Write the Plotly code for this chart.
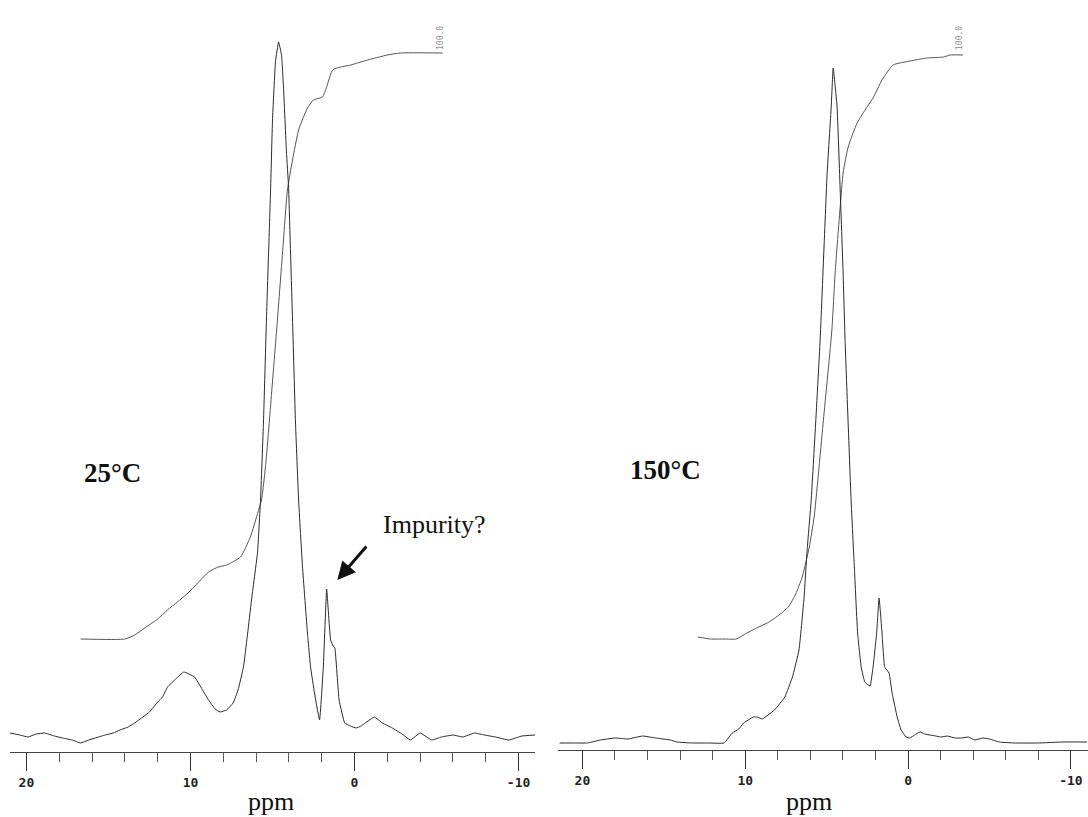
import plotly.graph_objects as go

# ---------------- data (ppm, intensity in arbitrary units) ----------------
# 25 °C spectrum
left_ppm = [21.0, 20.4, 19.9, 19.4, 18.9, 18.3, 17.8, 17.2, 16.7, 16.2, 15.8, 15.2, 14.7, 14.3, 13.8,
            13.4, 12.9, 12.5, 12.0, 11.7, 11.4, 10.9, 10.4, 9.75, 9.3, 8.9, 8.5, 8.2, 7.8, 7.4, 7.1,
            6.77, 6.52, 6.28, 5.91, 5.73, 5.55, 5.37, 5.24, 5.12, 5.0, 4.82, 4.63, 4.45, 4.33,
            4.15, 4.02, 3.9, 3.78, 3.6, 3.41, 3.17, 2.87, 2.68, 2.44, 2.26, 2.13, 1.9, 1.7, 1.55,
            1.46, 1.3, 1.2, 0.94, 0.6, 0.25, -0.1, -0.4, -0.65, -1.0, -1.2, -1.7, -2.3, -2.9, -3.4,
            -4.0, -4.7, -5.3, -6.0, -6.6, -7.3, -7.9, -8.6, -9.4, -10.2, -11.0]
left_spec = [19, 17, 15, 18, 19, 16, 14, 12, 9, 12, 14, 17, 19, 22, 25,
             29, 35, 40, 50, 55, 65, 73, 80, 75, 63, 52, 43, 40, 42, 49, 62,
             85, 118, 152, 200, 252, 330, 432, 499, 560, 632, 690, 710, 697, 665,
             600, 565, 499, 432, 330, 252, 185, 119, 85, 59, 42, 32, 85, 163, 130,
             112, 106, 104, 52, 29, 26, 24, 26, 29, 33, 35, 29, 24, 18, 12,
             19, 12, 15, 17, 15, 19, 17, 15, 12, 16, 17]
left_int_ppm = [16.7, 14.0, 13.4, 12.7, 12.0, 11.4, 10.8, 10.15, 9.5, 8.9, 8.3, 7.8, 6.95, 6.35, 5.9,
                5.67, 5.4, 5.1, 4.7, 4.39, 4.09, 3.78, 3.41, 2.87, 2.5, 1.95, 1.7, 1.34, 0.85, 0.24,
                -0.8, -2.0, -2.8, -5.37]
left_int = [113, 113, 117, 125, 133, 142, 150, 159, 170, 180, 185, 187, 195, 215, 239,
            252, 290, 350, 432, 499, 562, 592, 622, 644, 652, 655, 665, 682, 685, 687,
            692, 697, 699, 699]

# 150 °C spectrum
right_ppm = [21.4, 20.5, 19.7, 18.9, 18.0, 17.2, 16.3, 15.5, 14.6, 14.2, 13.3, 12.3, 11.3, 10.8, 10.4,
             10.1, 9.5, 9.26, 8.96, 8.6, 8.2, 7.57, 7.1, 6.7, 6.4, 6.2, 5.95, 5.7, 5.4, 4.97, 4.72,
             4.6, 4.36, 4.17, 3.99, 3.87, 3.5, 3.3, 3.1, 2.88, 2.66, 2.45, 2.33, 2.15, 1.93, 1.78,
             1.6, 1.44, 1.17, 0.98, 0.67, 0.43, 0.12, -0.1, -0.4, -0.74, -1.0, -1.35, -1.7, -2.0,
             -2.4, -2.9, -3.3, -3.7, -4.1, -4.6, -5.0, -5.6, -6.5, -8.0, -9.5, -11.0]
right_spec = [7, 7, 7, 10, 12, 11, 14, 12, 10, 8, 7, 7, 7, 17, 21,
              27, 33, 33, 31, 35, 40, 53, 73, 100, 150, 200, 250, 320, 410, 577, 643,
              682, 643, 560, 477, 410, 250, 183, 117, 83, 68, 65, 64, 83, 117, 152,
              117, 83, 77, 57, 33, 20, 13, 12, 15, 18, 16, 15, 14, 13,
              14, 12, 12, 13, 10, 12, 11, 8, 7, 7, 8, 8]
right_int_ppm = [12.9, 12.15, 11.3, 10.55, 9.9, 9.3, 8.65, 8.0, 7.36, 6.9, 6.5, 6.07, 5.77, 5.2,
                 4.68, 4.48, 4.17, 3.99, 3.68, 3.13, 2.52, 2.15, 1.6, 0.92, -0.12, -1.17, -2.2, -2.58,
                 -3.37]
right_int = [113, 111, 111, 111, 117, 122, 127, 134, 143, 156, 173, 203, 233, 330,
             420, 477, 543, 577, 603, 627, 643, 652, 670, 685, 689, 692, 693, 695,
             695]

major_ticks = [20, 10, 0, -10]
major_labels = ["20", "10", "0", "-10"]

W, H = 1088, 817
LINE = "#2a2a2a"

fig = go.Figure()
fig.add_trace(go.Scatter(x=left_int_ppm, y=left_int, xaxis="x", yaxis="y", mode="lines",
                         line=dict(color="#555555", width=1, shape="spline", smoothing=0.5)))
fig.add_trace(go.Scatter(x=left_ppm, y=left_spec, xaxis="x", yaxis="y", mode="lines",
                         line=dict(color=LINE, width=1, shape="spline", smoothing=0.3)))
fig.add_trace(go.Scatter(x=right_int_ppm, y=right_int, xaxis="x2", yaxis="y2", mode="lines",
                         line=dict(color="#555555", width=1, shape="spline", smoothing=0.5)))
fig.add_trace(go.Scatter(x=right_ppm, y=right_spec, xaxis="x2", yaxis="y2", mode="lines",
                         line=dict(color=LINE, width=1, shape="spline", smoothing=0.3)))

def xaxis_style(rng, dom, anchor):
    return dict(
        range=rng, domain=dom, anchor=anchor,
        showline=True, linecolor="#444444", linewidth=1,
        showgrid=False, zeroline=False,
        ticks="outside", ticklen=18, tickwidth=1, tickcolor="#333333",
        tickvals=major_ticks, ticktext=major_labels,
        tickfont=dict(family="DejaVu Sans Mono", size=13, color="#222222", weight="bold"),
        minor=dict(dtick=2, tick0=0, ticks="outside", ticklen=9, tickwidth=1,
                   tickcolor="#555555", showgrid=False),
        fixedrange=True,
    )

def yaxis_style(rng, dom, anchor):
    return dict(range=rng, domain=dom, anchor=anchor, visible=False,
                showgrid=False, zeroline=False, fixedrange=True)

fig.update_layout(
    width=W, height=H,
    margin=dict(l=0, r=0, t=0, b=0),
    paper_bgcolor="white", plot_bgcolor="white",
    showlegend=False,
    xaxis=xaxis_style([21.0, -11.0], [10 / W, 535 / W], "y"),
    yaxis=yaxis_style([0, 752], [65 / H, 1], "x"),
    xaxis2=xaxis_style([21.5, -11.05], [558 / W, 1.0], "y2"),
    yaxis2=yaxis_style([0, 750], [67 / H, 1], "x2"),
)

def px(xp):
    return xp / W

def py(yp):
    return 1 - yp / H

serif = "Liberation Serif"
annotations = [
    dict(text="ppm", x=px(271), y=py(801), xref="paper", yref="paper", showarrow=False,
         xanchor="center", yanchor="middle", font=dict(family=serif, size=26, color="#111")),
    dict(text="ppm", x=px(809), y=py(801), xref="paper", yref="paper", showarrow=False,
         xanchor="center", yanchor="middle", font=dict(family=serif, size=26, color="#111")),
    dict(text="<b>25°C</b>", x=px(112), y=py(473), xref="paper", yref="paper", showarrow=False,
         xanchor="center", yanchor="middle", font=dict(family=serif, size=27, color="#111")),
    dict(text="<b>150°C</b>", x=px(665), y=py(470), xref="paper", yref="paper", showarrow=False,
         xanchor="center", yanchor="middle", font=dict(family=serif, size=27, color="#111")),
    dict(text="Impurity?", x=px(434), y=py(524), xref="paper", yref="paper", showarrow=False,
         xanchor="center", yanchor="middle", font=dict(family=serif, size=26, color="#111")),
    dict(text="100.0", x=px(441), y=py(38), xref="paper", yref="paper", showarrow=False,
         textangle=-90, xanchor="center", yanchor="middle",
         font=dict(family="DejaVu Sans Mono", size=8, color="#888")),
    dict(text="100.0", x=px(960), y=py(38), xref="paper", yref="paper", showarrow=False,
         textangle=-90, xanchor="center", yanchor="middle",
         font=dict(family="DejaVu Sans Mono", size=8, color="#888")),
    # arrow pointing at the impurity peak
    dict(text="", x=1.05, y=172, xref="x", yref="y", ax=-0.8, ay=207, axref="x", ayref="y",
         showarrow=True, arrowhead=2, arrowsize=1.2, arrowwidth=3, arrowcolor="#111",
         standoff=0, startstandoff=0),
]
fig.update_layout(annotations=annotations)

fig.write_html("out.html",
               config={"displayModeBar": False},
               post_script="document.body.style.margin='0';document.body.style.overflow='hidden';")
